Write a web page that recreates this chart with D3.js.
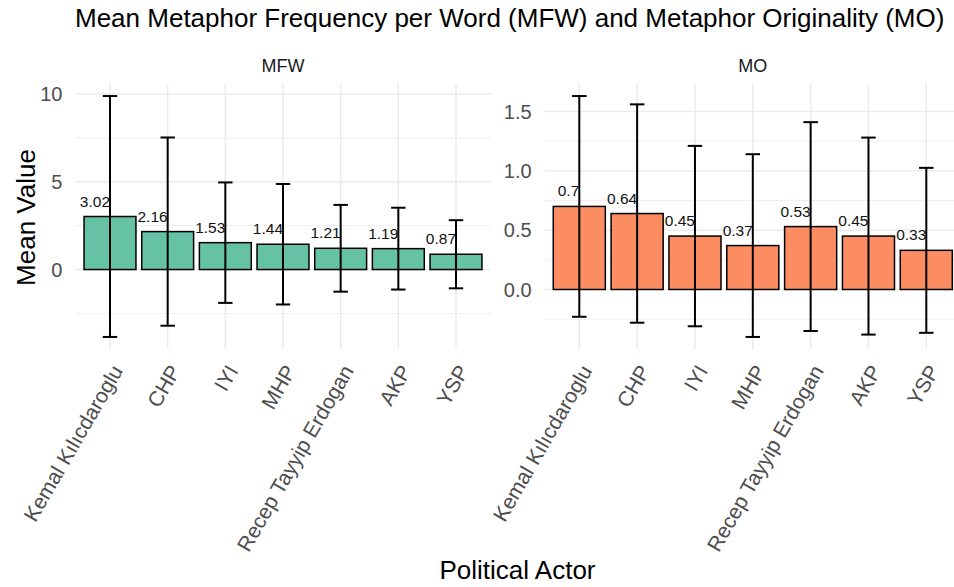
<!DOCTYPE html>
<html>
<head>
<meta charset="utf-8">
<script src="https://cdn.jsdelivr.net/npm/d3@7"></script>
<style>
  html, body { margin: 0; padding: 0; background: #fff; }
  svg { display: block; }
  text { font-family: "Liberation Sans", Arial, Helvetica, sans-serif; }
</style>
</head>
<body>
<svg id="chart" width="954" height="587"></svg>
<script>
// ---- Data ----
const categories = ["Kemal Kılıcdaroglu", "CHP", "IYI", "MHP", "Recep Tayyip Erdogan", "AKP", "YSP"];
const mfwMean = [3.02, 2.16, 1.53, 1.44, 1.21, 1.19, 0.87];
const mfwSD   = [6.86, 5.36, 3.43, 3.43, 2.47, 2.33, 1.94];
const moMean  = [0.7, 0.64, 0.45, 0.37, 0.53, 0.45, 0.33];
const moSD    = [0.93, 0.92, 0.76, 0.77, 0.88, 0.83, 0.695];
const mfwTicks = [0, 5, 10];
const mfwMinor = [-2.5, 2.5, 7.5];
const moTicks  = [0, 0.5, 1.0, 1.5];
const moMinor  = [-0.25, 0.25, 0.75, 1.25];
const panelNames = ["MFW", "MO"];
const colors = ["#66C2A5", "#FC8D62"];

const svg = d3.select("#chart");
const panelTop = 84, panelBottom = 349;

const panels = [
  { name: panelNames[0], mean: mfwMean, sd: mfwSD, ticks: mfwTicks, minor: mfwMinor, color: colors[0],
    x0: 75.4, x1: 490.6, fmt: d3.format("d") },
  { name: panelNames[1], mean: moMean, sd: moSD, ticks: moTicks, minor: moMinor, color: colors[1],
    x0: 544.6, x1: 961, fmt: d3.format(".1f") }
];

panels.forEach(p => {
  const lo = d3.min(p.mean.map((m, i) => m - p.sd[i]));
  const hi = d3.max(p.mean.map((m, i) => m + p.sd[i]));
  const pad = (hi - lo) * 0.05;
  const y = d3.scaleLinear().domain([lo - pad, hi + pad]).range([panelBottom, panelTop]);
  const x = d3.scaleBand().domain(categories).range([p.x0, p.x1]).paddingInner(0.1).paddingOuter(0.15);
  const cx = d => x(d) + x.bandwidth() / 2;
  const g = svg.append("g");

  // minor grid
  g.selectAll(".minor").data(p.minor).join("line")
    .attr("x1", p.x0).attr("x2", p.x1)
    .attr("y1", d => y(d)).attr("y2", d => y(d))
    .attr("stroke", "#ebebeb").attr("stroke-width", 0.8);
  // major grid
  g.selectAll(".major").data(p.ticks).join("line")
    .attr("x1", p.x0).attr("x2", p.x1)
    .attr("y1", d => y(d)).attr("y2", d => y(d))
    .attr("stroke", "#ebebeb").attr("stroke-width", 1.5);
  g.selectAll(".vgrid").data(categories).join("line")
    .attr("x1", cx).attr("x2", cx)
    .attr("y1", panelTop).attr("y2", panelBottom)
    .attr("stroke", "#ebebeb").attr("stroke-width", 1.5);

  // y tick labels
  g.selectAll(".ytick").data(p.ticks).join("text")
    .attr("x", p.x0 - 13).attr("y", d => y(d)).attr("dy", "0.36em")
    .attr("text-anchor", "end").attr("font-size", 20).attr("fill", "#4d4d4d")
    .text(d => p.fmt(d));

  // x tick labels
  g.selectAll(".xtick").data(categories).join("text")
    .attr("transform", d => `translate(${cx(d) + 0.5},363) rotate(-60)`)
    .attr("dy", "0.72em")
    .attr("text-anchor", "end").attr("font-size", 21).attr("fill", "#4d4d4d")
    .text(d => d);

  // bars
  g.selectAll(".bar").data(categories).join("rect")
    .attr("x", d => x(d)).attr("width", x.bandwidth())
    .attr("y", (d, i) => y(p.mean[i])).attr("height", (d, i) => y(0) - y(p.mean[i]))
    .attr("fill", p.color).attr("stroke", "#000").attr("stroke-width", 1.5);

  // error bars
  const capW = x.step() * 0.25;
  const eb = g.selectAll(".eb").data(categories).join("g");
  eb.append("line")
    .attr("x1", cx).attr("x2", cx)
    .attr("y1", (d, i) => y(p.mean[i] - p.sd[i])).attr("y2", (d, i) => y(p.mean[i] + p.sd[i]))
    .attr("stroke", "#000").attr("stroke-width", 2);
  eb.append("line")
    .attr("x1", d => cx(d) - capW / 2).attr("x2", d => cx(d) + capW / 2)
    .attr("y1", (d, i) => y(p.mean[i] + p.sd[i])).attr("y2", (d, i) => y(p.mean[i] + p.sd[i]))
    .attr("stroke", "#000").attr("stroke-width", 2);
  eb.append("line")
    .attr("x1", d => cx(d) - capW / 2).attr("x2", d => cx(d) + capW / 2)
    .attr("y1", (d, i) => y(p.mean[i] - p.sd[i])).attr("y2", (d, i) => y(p.mean[i] - p.sd[i]))
    .attr("stroke", "#000").attr("stroke-width", 2);

  // value labels
  g.selectAll(".val").data(categories).join("text")
    .attr("x", cx)
    .attr("y", (d, i) => y(p.mean[i]) - 10)
    .attr("text-anchor", "end").attr("font-size", 15.5).attr("fill", "#111")
    .text((d, i) => String(p.mean[i]));

  // strip label
  g.append("text")
    .attr("x", (p.x0 + p.x1) / 2).attr("y", 71.5)
    .attr("text-anchor", "middle").attr("font-size", 18).attr("fill", "#1a1a1a")
    .text(p.name);
});

// title
svg.append("text")
  .attr("x", 75).attr("y", 27)
  .attr("font-size", 26).attr("fill", "#000")
  .text("Mean Metaphor Frequency per Word (MFW) and Metaphor Originality (MO)");

// axis titles
svg.append("text")
  .attr("x", 517.5).attr("y", 579)
  .attr("text-anchor", "middle").attr("font-size", 26).attr("fill", "#000")
  .text("Political Actor");
svg.append("text")
  .attr("transform", "translate(35,217.5) rotate(-90)")
  .attr("text-anchor", "middle").attr("font-size", 26).attr("fill", "#000")
  .text("Mean Value");
</script>
</body>
</html>
